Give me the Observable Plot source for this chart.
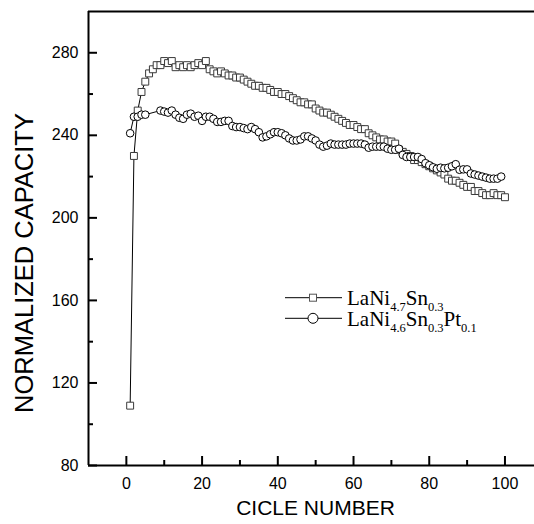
<!DOCTYPE html>
<html><head><meta charset="utf-8">
<script src="https://cdn.jsdelivr.net/npm/d3@7"></script>
<script src="https://cdn.jsdelivr.net/npm/@observablehq/plot@0.6"></script>
<style>body{margin:0;background:#fff;overflow:hidden}#chart{width:534px;height:524px}</style>
</head><body><div id="chart"></div>
<script>
// Series 1: LaNi4.7Sn0.3 (squares)
const snCycles = [1,2,3,4,5,6,7,8,9,10,11,12,13,14,15,16,17,18,19,20,21,22,23,24,25,26,27,28,29,30,31,32,33,34,35,36,37,38,39,40,41,42,43,44,45,46,47,48,49,50,51,52,53,54,55,56,57,58,59,60,61,62,63,64,65,66,67,68,69,70,71,72,73,74,75,76,77,78,79,80,81,82,83,84,85,86,87,88,89,90,91,92,93,94,95,96,97,98,99,100];
const snValues = [109,230,252,261,266,270,272,274,274,276,275,276,273,274,273,274,273,274,275,274,276,272,271,270,271,270,269,269,268,268,267,266,265,264,264,263,263,262,261,261,260,260,259,258,257,256,256,255,255,253,252,251,251,250,249,248,247,246,245,245,244,243,243,241,240,239,238,238,237,237,236,233,232,231,230,228,228,227,226,225,224,223,222,221,219,218,218,217,216,215,215,213,213,212,211,211,212,211,211,210];
// Series 2: LaNi4.6Sn0.3Pt0.1 (circles)
const ptCycles = [1,2,3,4,5,9,10,11,12,13,14,15,16,17,18,19,20,21,22,23,24,25,26,27,28,29,30,31,32,33,34,35,36,37,38,39,40,41,42,43,44,45,46,47,48,49,50,51,52,53,54,55,56,57,58,59,60,61,62,63,64,65,66,67,68,69,70,71,72,73,74,75,76,77,78,79,80,81,82,83,84,85,86,87,88,89,90,91,92,93,94,95,96,97,98,99];
const ptValues = [241,249,249,250,250,252,251.5,251,252,250,248.5,248,250,250.5,249,249.5,247,249,249,248,246.5,246.5,247,247,244.5,244,244,243.5,243,244,243,241.5,239,239.5,240.5,241.5,241.5,241,240,238.5,237.5,237.5,238,239.5,239.5,238.5,237.5,235.5,234.5,235,236,235.5,235.5,235.5,235.5,236,236,236,236,235.5,234,234.5,234.5,234.5,234.5,233.5,233,233,233.5,230.5,229.5,229.5,229.5,229.5,228.5,226.5,225.5,224.5,223.8,224.3,224,224.3,225,226,223.3,223.5,223.5,221.5,221,220.5,220,219.5,219,219,219,220];
const xMajorTicks = [0,20,40,60,80,100];
const xMinorTicks = [10,30,50,70,90];
const yMajorTicks = [80,120,160,200,240,280];
const yMinorTicks = [100,140,180,220,260];
const xTitle = "CICLE NUMBER";
const yTitle = "NORMALIZED CAPACITY";

const sn = snCycles.map((c,i)=>({cycle:c, cap:snValues[i]}));
const pt = ptCycles.map((c,i)=>({cycle:c, cap:ptValues[i]}));

const svgEl = Plot.plot({
  width:534, height:524, marginLeft:88, marginRight:0, marginTop:11, marginBottom:59,
  x:{domain:[-10,107.8]}, y:{domain:[80,300]},
  style:{fontFamily:"'Liberation Sans', Arial, sans-serif", fontSize:"16px", color:"#000", background:"#fff", overflow:"visible"},
  marks:[
    Plot.line(sn,{x:"cycle",y:"cap",stroke:"#000",strokeWidth:1}),
    Plot.dot(sn,{x:"cycle",y:"cap",symbol:"square",r:3.9,fill:"#fff",stroke:"#3a3a3a",strokeWidth:1}),
    Plot.line(pt,{x:"cycle",y:"cap",stroke:"#000",strokeWidth:1}),
    Plot.dot(pt,{x:"cycle",y:"cap",r:3.8,fill:"#fff",stroke:"#000",strokeWidth:1}),
    Plot.axisX(xMajorTicks,{tickSize:-9,strokeWidth:2,fill:"none",label:null}),
    Plot.axisX(xMinorTicks,{tickSize:-5,strokeWidth:2,fill:"none",label:null}),
    Plot.axisY(yMajorTicks,{tickSize:-9,strokeWidth:2,fill:"none",label:null}),
    Plot.axisY(yMinorTicks,{tickSize:-5,strokeWidth:2,fill:"none",label:null}),
    Plot.axisX(xMajorTicks,{tickSize:0,tickPadding:12,label:null,fontSize:16}),
    Plot.axisY(yMajorTicks,{tickSize:0,tickPadding:10,label:null,fontSize:16}),
    Plot.ruleY([80,300],{strokeWidth:2}),
    Plot.ruleX([-10],{strokeWidth:2})
  ]
});
document.getElementById("chart").appendChild(svgEl);
const svg = d3.select(svgEl);
svg.append("text").attr("x",315.5).attr("y",515).attr("text-anchor","middle")
  .attr("font-family","'Liberation Sans', Arial, sans-serif").attr("font-size",21).attr("fill","#000").text(xTitle);
svg.append("text").attr("transform","translate(33,263) rotate(-90)").attr("text-anchor","middle")
  .attr("font-family","'Liberation Sans', Arial, sans-serif").attr("font-size",25.5).attr("fill","#000").text(yTitle);

// legend
const lg = svg.append("g").attr("text-anchor","start");
const rows = [
  {y:297.7, sym:"square", parts:[["LaNi",0],["4.7",1],["Sn",0],["0.3",1]]},
  {y:318.3, sym:"circle", parts:[["LaNi",0],["4.6",1],["Sn",0],["0.3",1],["Pt",0],["0.1",1]]}
];
rows.forEach(r=>{
  lg.append("line").attr("x1",285).attr("x2",342).attr("y1",r.y).attr("y2",r.y).attr("stroke","#000").attr("stroke-width",1);
  if(r.sym==="square") lg.append("rect").attr("x",313-3.5).attr("y",r.y-3.5).attr("width",7).attr("height",7).attr("fill","#fff").attr("stroke","#555");
  else lg.append("circle").attr("cx",313).attr("cy",r.y).attr("r",5).attr("fill","#fff").attr("stroke","#000");
  const t = lg.append("text").attr("x",347).attr("y",r.y+7.5).attr("text-anchor","start")
    .attr("font-family","'Liberation Serif', 'Times New Roman', serif").attr("font-size",21).attr("fill","#000");
  let sub=false;
  r.parts.forEach(([s,isSub])=>{
    const ts = t.append("tspan").text(s);
    if(isSub && !sub){ts.attr("dy",6).attr("font-size",12.5); sub=true;}
    else if(isSub){ts.attr("font-size",12.5);}
    else if(!isSub && sub){ts.attr("dy",-6); sub=false;}
  });
});
</script>
</body></html>
